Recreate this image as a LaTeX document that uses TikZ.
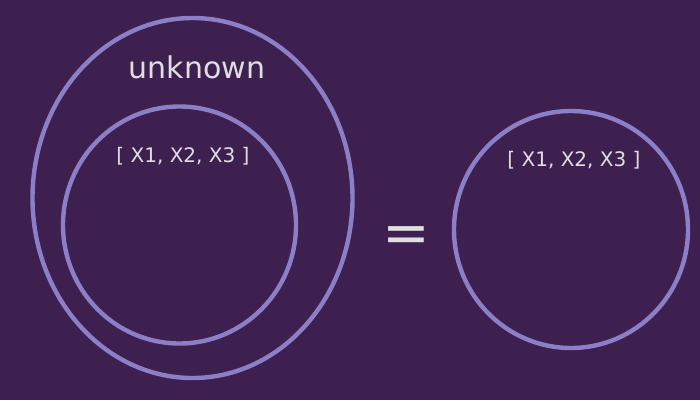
\documentclass[tikz,border=0pt]{standalone}
\usepackage{fontspec}
\setmainfont{DejaVu Sans}
\definecolor{bg}{HTML}{3E2050}
\definecolor{ring}{HTML}{8B7FC7}
\definecolor{txt}{HTML}{E0DDE3}
\begin{document}
\begin{tikzpicture}[x=1pt,y=-1pt,
  ringline/.style={draw=ring,line width=4.4pt},
  lbl/.style={text=txt,inner sep=0pt,font=\fontsize{20}{22}\selectfont}]
\fill[bg] (0,0) rectangle (700,400);
\useasboundingbox (0,0) rectangle (700,400);
\draw[ringline] (192.5,198) ellipse [x radius=160, y radius=180];
\draw[ringline] (179.5,225) ellipse [x radius=116.5, y radius=118.5];
\draw[ringline] (571,229.5) ellipse [x radius=117, y radius=118.5];
\node[text=txt,inner sep=0pt,font=\fontsize{30}{34}\selectfont] (unk) at (197,67) {unknown};
\node[lbl] (l1) at (183,156) {[ X1, X2, X3 ]};
\node[lbl] (l2) at (574,160) {[ X1, X2, X3 ]};
\node[text=txt,inner sep=0pt,font=\fontsize{57}{62}\selectfont] (eq) at (406,240) {=};
\end{tikzpicture}
\end{document}
